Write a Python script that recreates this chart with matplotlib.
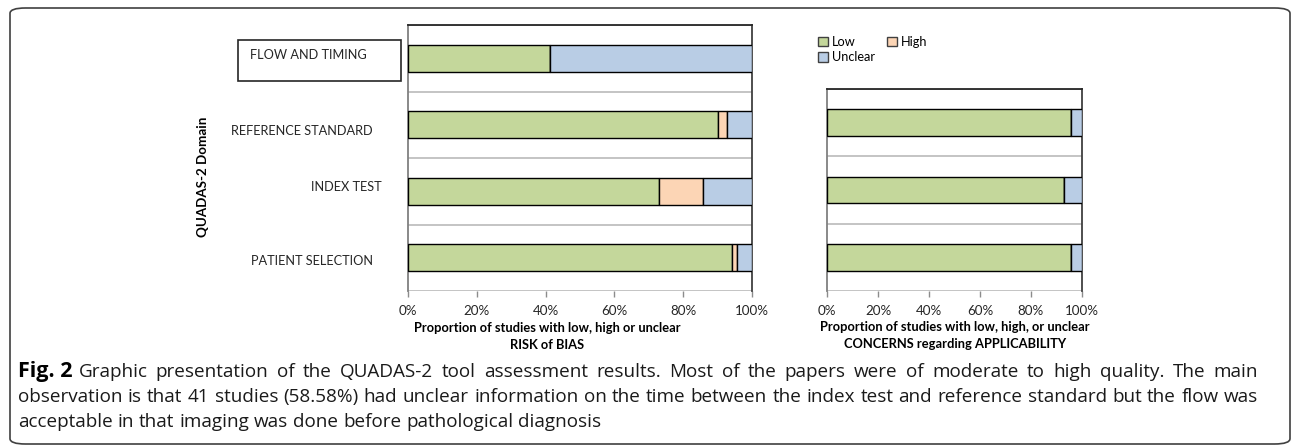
import matplotlib
matplotlib.use("Agg")
import matplotlib.pyplot as plt
from matplotlib.patches import Patch, FancyBboxPatch, Rectangle
import numpy as np

# ---------------- data ----------------
domains_bias = ["PATIENT SELECTION", "INDEX TEST", "REFERENCE STANDARD", "FLOW AND TIMING"]
bias_low = [94.29, 72.86, 90.00, 41.42]
bias_high = [1.43, 12.86, 2.86, 0.00]
bias_unclear = [4.29, 14.29, 7.14, 58.58]

domains_app = ["PATIENT SELECTION", "INDEX TEST", "REFERENCE STANDARD"]
app_low = [95.71, 92.86, 95.71]
app_high = [0.00, 0.00, 0.00]
app_unclear = [4.29, 7.14, 4.29]

xticks = [0, 20, 40, 60, 80, 100]
xticklabels = ["0%", "20%", "40%", "60%", "80%", "100%"]
series_names = ["Low", "High", "Unclear"]
colors = ["#C4D79B", "#FCD5B5", "#B9CDE5"]

caption_lines = [
    "Graphic presentation of the QUADAS-2 tool assessment results. Most of the papers were of moderate to high quality. The main",
    "observation is that 41 studies (58.58%) had unclear information on the time between the index test and reference standard but the flow was",
    "acceptable in that imaging was done before pathological diagnosis",
]

W, H = 1292, 447
fig = plt.figure(figsize=(W / 100, H / 100), dpi=100)
FONT = "Lato"
plt.rcParams["font.family"] = [FONT, "DejaVu Sans"]


def px_axes(x0, y0, x1, y1):
    return fig.add_axes([x0 / W, 1 - y1 / H, (x1 - x0) / W, (y1 - y0) / H])


def draw(ax, low, high, unclear, n):
    y = np.arange(n)
    low = np.array(low); high = np.array(high); unclear = np.array(unclear)
    kw = dict(height=0.4, edgecolor="black", linewidth=1.0, zorder=3)
    ax.barh(y, low, color=colors[0], **kw)
    ax.barh(y, high, left=low, color=colors[1], **kw)
    ax.barh(y, unclear, left=low + high, color=colors[2], **kw)
    ax.set_xlim(0, 100)
    ax.set_ylim(-0.5, n - 0.5)
    for b in np.arange(-0.5, n, 1.0):
        ax.axhline(b, color="#BFBFBF", linewidth=1.3, zorder=1)
    ax.set_yticks([])
    ax.set_xticks(xticks)
    ax.set_xticklabels(xticklabels, fontsize=9.6, color="#262626")
    ax.tick_params(axis="x", direction="out", length=4, width=1, color="#8C8C8C", pad=6)
    ax.spines["left"].set_color("#808080"); ax.spines["left"].set_linewidth(1.3)
    ax.spines["top"].set_color("#262626"); ax.spines["top"].set_linewidth(1.3)
    ax.spines["right"].set_color("#404040"); ax.spines["right"].set_linewidth(1.3)
    ax.spines["bottom"].set_visible(False)
    ax.set_facecolor("white")


axL = px_axes(408, 25, 752, 291)
draw(axL, bias_low, bias_high, bias_unclear, len(domains_bias))
axR = px_axes(827, 89, 1082, 291)
draw(axR, app_low, app_high, app_unclear, len(domains_app))

# category labels (positioned as in the original)
label_x = {"PATIENT SELECTION": 312, "INDEX TEST": 346, "REFERENCE STANDARD": 302, "FLOW AND TIMING": 308}
label_dy = {"PATIENT SELECTION": 3, "INDEX TEST": -4, "REFERENCE STANDARD": 6, "FLOW AND TIMING": -3}
for i, name in enumerate(domains_bias):
    yc = axL.transData.transform((0, i))[1] - label_dy[name]
    ax_y = axL.transAxes.inverted().transform((0, yc))[1]
    fig.text(label_x[name] / W, ax_y * ((291 - 25) / H) + (1 - 291 / H),
             name, ha="center", va="center", fontsize=9.2, color="#262626")

# box around FLOW AND TIMING label
fig.add_artist(Rectangle((238 / W, 1 - 81 / H), (401 - 238) / W, (81 - 40) / H,
                         transform=fig.transFigure, fill=False, edgecolor="#262626", linewidth=1.2))

fig.text(203 / W, 1 - 177 / H, "QUADAS-2 Domain", rotation=90, ha="center", va="center",
         fontsize=9.6, fontweight="bold", color="#000000")

# axis titles
fs_t = 9.3
fig.text(547 / W, 1 - 328 / H, "Proportion of studies with low, high or unclear", ha="center", va="center",
         fontsize=fs_t, fontweight="bold")
fig.text(547 / W, 1 - 345 / H, "RISK of BIAS", ha="center", va="center", fontsize=fs_t, fontweight="bold")
fig.text(955 / W, 1 - 327 / H, "Proportion of studies with low, high, or unclear", ha="center", va="center",
         fontsize=fs_t, fontweight="bold")
fig.text(955 / W, 1 - 344 / H, "CONCERNS regarding APPLICABILITY", ha="center", va="center",
         fontsize=fs_t, fontweight="bold")

# legend
handles = [Patch(facecolor=colors[0], edgecolor="#404040", label=series_names[0]),
           Patch(facecolor=colors[2], edgecolor="#404040", label=series_names[2]),
           Patch(facecolor=colors[1], edgecolor="#404040", label=series_names[1])]
fig.legend(handles=handles, ncol=2, loc="upper left", bbox_to_anchor=(818 / W, 1 - 36 / H),
           frameon=False, fontsize=9.2, handlelength=0.8, handleheight=0.8, handletextpad=0.3,
           columnspacing=0.9, labelspacing=0.25, borderpad=0, borderaxespad=0)

# caption (justified like the original)
cap_font = "Open Sans"
cfs = 13.6
renderer = fig.canvas.get_renderer()
LEFT, RIGHT = 18, 1258
baselines = [377, 402, 427]


def words_line(words, x_start, yb, justify):
    arts = [fig.text(0, 1 - yb / H, w, fontsize=cfs, family=cap_font, va="baseline", color="#1a1a1a")
            for w in words]
    widths = [a.get_window_extent(renderer).width for a in arts]
    t1 = fig.text(0, 0, "a a", fontsize=cfs, family=cap_font)
    t2 = fig.text(0, 0, "aa", fontsize=cfs, family=cap_font)
    space = t1.get_window_extent(renderer).width - t2.get_window_extent(renderer).width
    t1.remove(); t2.remove()
    total = sum(widths)
    gap = (RIGHT - x_start - total) / (len(words) - 1) if justify and len(words) > 1 else space
    x = x_start
    for a, wd in zip(arts, widths):
        a.set_x(x / W)
        x += wd + gap


fig.canvas.draw()
tfig = fig.text(LEFT / W, 1 - baselines[0] / H, "Fig. 2", fontsize=15.5, fontweight="bold",
                family=cap_font, va="baseline")
fig.canvas.draw()
x0 = tfig.get_window_extent(renderer).x1 + 6
words_line(caption_lines[0].split(" "), x0, baselines[0], True)
words_line(caption_lines[1].split(" "), LEFT, baselines[1], True)
words_line(caption_lines[2].split(" "), LEFT, baselines[2], False)

# outer rounded frame
fig.add_artist(FancyBboxPatch((10 / W, 3 / H), (1290 - 10) / W, (439 - 3) / H,
                              boxstyle="round,pad=0,rounding_size=0.012", transform=fig.transFigure,
                              fill=False, edgecolor="#404040", linewidth=1.2))

fig.savefig("out.png", dpi=100, facecolor="white")
